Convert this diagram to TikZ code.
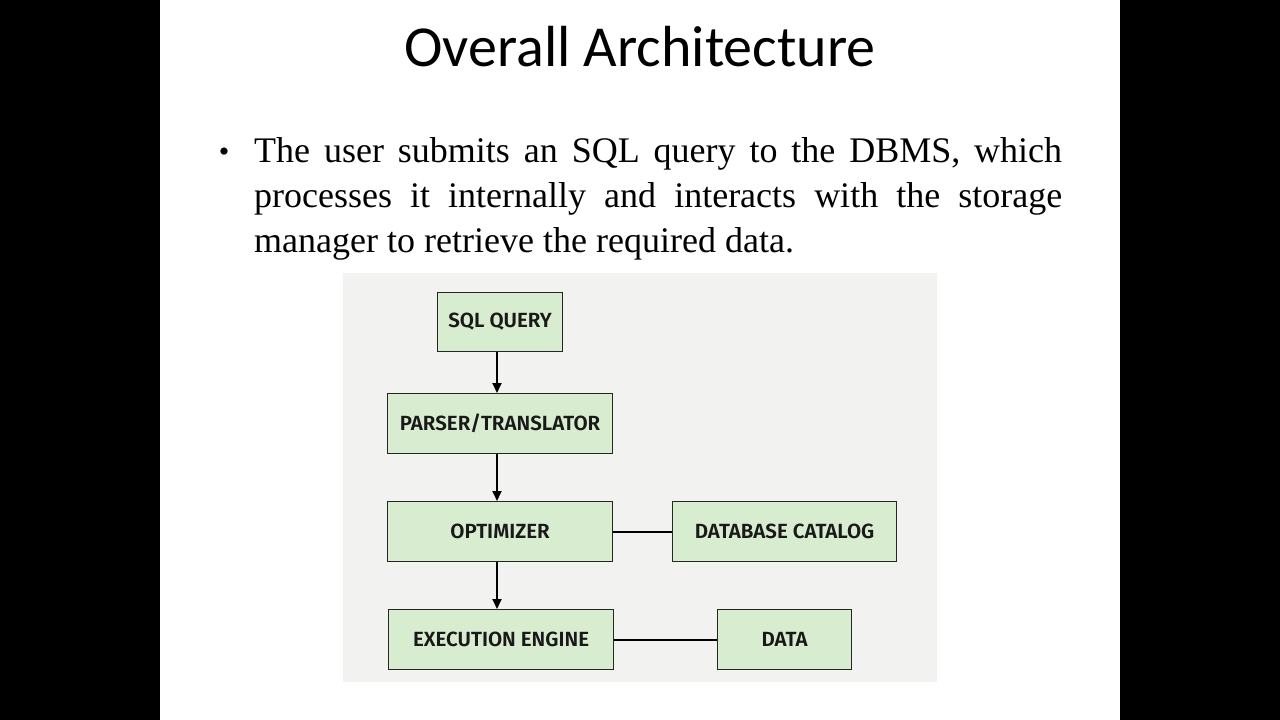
\documentclass[tikz,border=0pt]{standalone}
\usepackage{fontspec}
\setmainfont{Liberation Serif}
\newfontfamily\titlefont{Carlito}
\newfontfamily\boxfont{Fira Sans}[UprightFont=* SemiBold]
\usetikzlibrary{arrows.meta}
\definecolor{boxgreen}{HTML}{D8ECD0}
\definecolor{panel}{HTML}{F2F3F1}
\tikzset{x=1pt,y=-1pt,
 blk/.style={draw=black!85,line width=1.2pt,fill=boxgreen,font=\boxfont\fontsize{20.5}{24}\selectfont,text=black!90,inner sep=0pt,anchor=north west},
 arr/.style={-{Triangle[length=10pt,width=9pt]},line width=1.8pt},
 lin/.style={line width=1.8pt}}
\begin{document}
\begin{tikzpicture}
\fill[black] (0,0) rectangle (1280,720);
\fill[white] (160,0) rectangle (1120,720);
\useasboundingbox (0,0) rectangle (1280,720);
\node[font=\titlefont\fontsize{58}{66}\selectfont] (title) at (640,47) {Overall Architecture};
\node[anchor=north west,text width=808pt,align=justify,inner sep=0pt,font=\fontsize{36}{45}\selectfont] (txt) at (254,137) {\hyphenpenalty=10000 The user submits an SQL query to the DBMS, which\linebreak processes it internally and interacts with the storage\linebreak manager to retrieve the required data.};
\node[font=\fontsize{30}{30}\selectfont] (bul) at (224,155) {\textbullet};
\fill[panel] (343,273) rectangle (937,682);
\node[blk,minimum width=125pt,minimum height=59pt] (sql) at (437,292) {SQL QUERY};
\node[blk,minimum width=225pt,minimum height=60pt] (par) at (387,393) {PARSER/TRANSLATOR};
\node[blk,minimum width=225pt,minimum height=60pt] (opt) at (387,501) {OPTIMIZER};
\node[blk,minimum width=224pt,minimum height=60pt] (cat) at (672,501) {DATABASE CATALOG};
\node[blk,minimum width=225pt,minimum height=60pt] (exe) at (388,609) {EXECUTION ENGINE};
\node[blk,minimum width=134pt,minimum height=60pt] (dat) at (717,609) {DATA};
\draw[arr] (sql.south -| 497,0) -- (par.north -| 497,0);
\draw[arr] (par.south -| 497,0) -- (opt.north -| 497,0);
\draw[arr] (opt.south -| 497,0) -- (exe.north -| 497,0);
\draw[lin] (opt.east) -- (cat.west);
\draw[lin] (exe.east) -- (dat.west);
\end{tikzpicture}
\end{document}
